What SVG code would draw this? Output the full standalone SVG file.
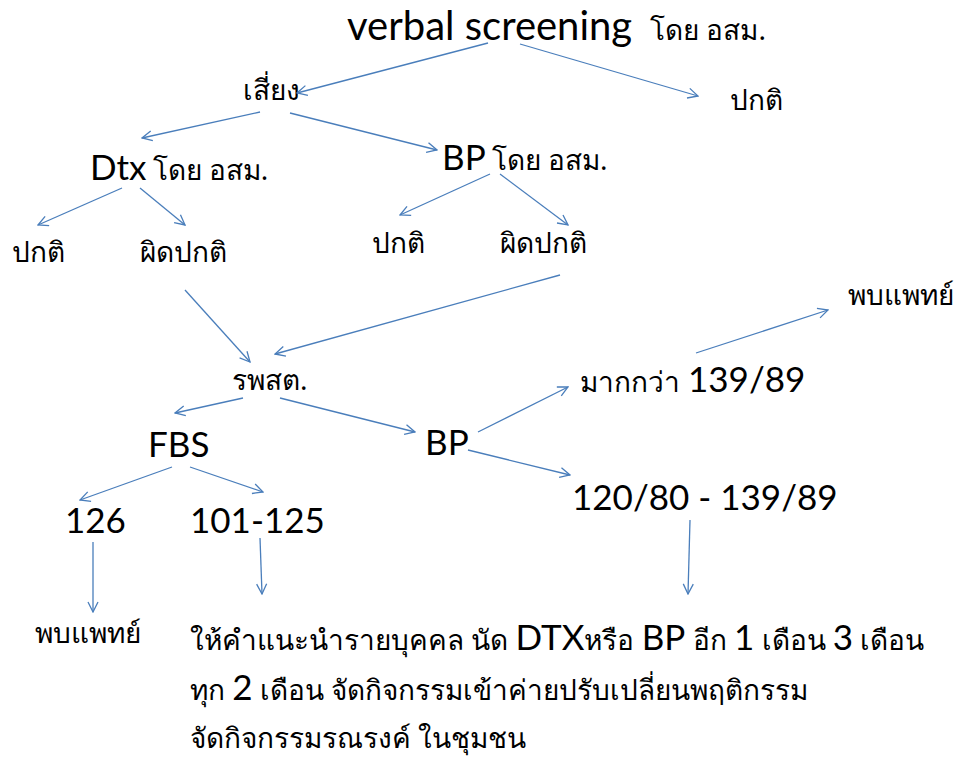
<svg xmlns="http://www.w3.org/2000/svg" width="966" height="758" viewBox="0 0 966 758">
<style>
.th{font-family:"Noto Sans","DejaVu Sans",sans-serif;font-size:28px;fill:#000}
.la{font-family:"Lato","Open Sans","Liberation Sans",sans-serif;font-size:35px;fill:#000}
.big{font-size:40px}
.c line{stroke:#4a7ebb;stroke-width:1.3;marker-end:url(#a)}
</style>
<defs>
<marker id="a" viewBox="0 0 12 12" refX="11" refY="6" markerWidth="12" markerHeight="12" markerUnits="userSpaceOnUse" orient="auto">
<path d="M1,1 L11,6 L1,11" fill="none" stroke="#4a7ebb" stroke-width="1.3"/>
</marker>
</defs>
<rect width="966" height="758" fill="#fff"/>
<g id="n-verbal"><text x="347" y="40"><tspan class="la big">verbal screening</tspan><tspan class="th" dx="18">โดย อสม.</tspan></text></g>
<g id="n-risk"><text class="th" x="243" y="100">เสี่ยง</text></g>
<g id="n-normal0"><text class="th" x="730" y="110">ปกติ</text></g>
<g id="n-dtx"><text x="90" y="180"><tspan class="la">Dtx</tspan><tspan class="th" dx="6">โดย อสม.</tspan></text></g>
<g id="n-bp1"><text x="442" y="170"><tspan class="la">BP</tspan><tspan class="th" dx="6">โดย อสม.</tspan></text></g>
<g id="n-dtx-normal"><text class="th" x="12" y="262">ปกติ</text></g>
<g id="n-dtx-abn"><text class="th" x="140" y="262">ผิดปกติ</text></g>
<g id="n-bp-normal"><text class="th" x="372" y="253">ปกติ</text></g>
<g id="n-bp-abn"><text class="th" x="500" y="253">ผิดปกติ</text></g>
<g id="n-doc1"><text class="th" x="848" y="305">พบแพทย์</text></g>
<g id="n-rpst"><text class="th" x="232" y="390">รพสต.</text></g>
<g id="n-more"><text x="580" y="392"><tspan class="th">มากกว่า</tspan><tspan class="la" dx="8">139/89</tspan></text></g>
<g id="n-fbs"><text class="la" x="148" y="457">FBS</text></g>
<g id="n-bp2"><text class="la" x="425" y="455">BP</text></g>
<g id="n-range"><text class="la" x="572" y="510">120/80 - 139/89</text></g>
<g id="n-126"><text class="la" x="65" y="533">126</text></g>
<g id="n-101"><text class="la" x="190" y="533">101-125</text></g>
<g id="n-doc2"><text class="th" x="35" y="643">พบแพทย์</text></g>
<g id="n-advice">
<text x="190" y="650"><tspan class="th">ให้คำแนะนำรายบุคคล นัด </tspan><tspan class="la">DTX</tspan><tspan class="th">หรือ </tspan><tspan class="la">BP</tspan><tspan class="th"> อีก </tspan><tspan class="la">1</tspan><tspan class="th"> เดือน  </tspan><tspan class="la">3</tspan><tspan class="th"> เดือน</tspan></text>
<text x="190" y="700"><tspan class="th">ทุก </tspan><tspan class="la">2</tspan><tspan class="th"> เดือน จัดกิจกรรมเข้าค่ายปรับเปลี่ยนพฤติกรรม</tspan></text>
<text class="th" x="190" y="748">จัดกิจกรรมรณรงค์ ในชุมชน</text>
</g>
<g id="connectors" class="c">
<line x1="488" y1="43" x2="297" y2="93"/>
<line x1="520" y1="44" x2="698" y2="96"/>
<line x1="260" y1="112" x2="142" y2="138"/>
<line x1="290" y1="113" x2="437" y2="150"/>
<line x1="122" y1="188" x2="38" y2="225"/>
<line x1="140" y1="188" x2="185" y2="225"/>
<line x1="490" y1="174" x2="400" y2="215"/>
<line x1="500" y1="174" x2="568" y2="225"/>
<line x1="185" y1="290" x2="250" y2="362"/>
<line x1="560" y1="275" x2="275" y2="354"/>
<line x1="243" y1="398" x2="175" y2="413"/>
<line x1="280" y1="398" x2="415" y2="432"/>
<line x1="478" y1="432" x2="568" y2="387"/>
<line x1="468" y1="450" x2="570" y2="475"/>
<line x1="696" y1="353" x2="828" y2="310"/>
<line x1="172" y1="467" x2="80" y2="500"/>
<line x1="190" y1="467" x2="263" y2="492"/>
<line x1="93" y1="542" x2="93" y2="612"/>
<line x1="260" y1="538" x2="262" y2="594"/>
<line x1="690" y1="520" x2="688" y2="594"/>
</g>
</svg>
